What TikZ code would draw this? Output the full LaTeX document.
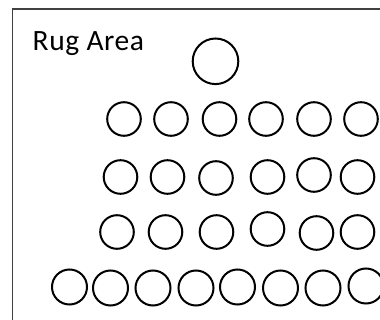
\documentclass[tikz,border=0pt]{standalone}
\usepackage{fontspec}
\setmainfont{Carlito}
\newfontfamily\labelfont[LetterSpace=2]{Carlito}
\begin{document}
\begin{tikzpicture}[x=1pt,y=-1pt,
  seat/.style={draw=black,circle,line width=2pt,inner sep=0pt,minimum size=33.6pt},
  bigseat/.style={draw=black,circle,line width=2pt,inner sep=0pt,minimum size=45.6pt},
  area/.style={draw=black!75,line width=1.4pt}]
  \useasboundingbox (0,0) rectangle (380,320);
  \clip (0,0) rectangle (380,320);
  % rug outline running off the right and bottom
  \draw[area] (12.5,9) rectangle (400,340);
  \node[anchor=base west,font=\labelfont\fontsize{29.5}{32}\selectfont,inner sep=0pt] (label) at (32.5,51) {Rug Area};
  % single seat at the front
  \node[bigseat] (front) at (215.5,61.3) {};
  % row 1
  \foreach \x [count=\i] in {124,171,219.5,266,314,361}
    \node[seat] (r1-\i) at (\x,119) {};
  % row 2
  \foreach \x/\y [count=\i] in {120.5/177,167.5/177,216/178,267.5/177,314/175,357.5/177}
    \node[seat] (r2-\i) at (\x,\y) {};
  % row 3
  \foreach \x/\y [count=\i] in {117/232,165.5/232,216.5/232,267.5/229,316.5/233,357.5/232}
    \node[seat] (r3-\i) at (\x,\y) {};
  % row 4
  \foreach \x/\y [count=\i] in {69.5/287,110.5/288,153/288,196/288,237.5/287,280.5/288,323/288,366/286}
    \node[seat,minimum size=35pt] (r4-\i) at (\x,\y) {};
\end{tikzpicture}
\end{document}
